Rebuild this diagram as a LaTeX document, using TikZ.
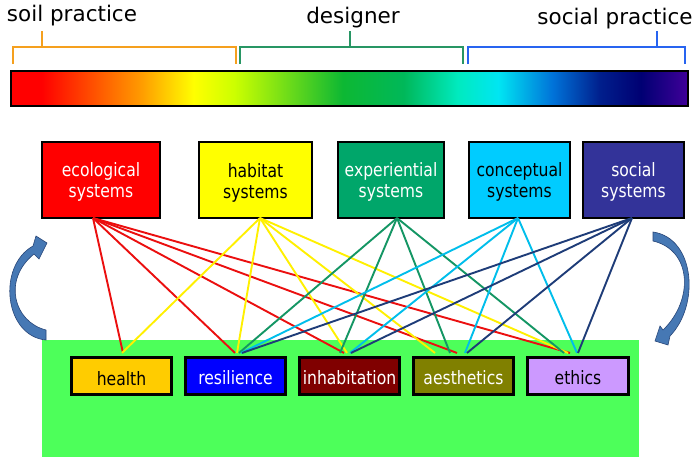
\documentclass[tikz,border=0pt]{standalone}
\usepackage{fontspec}
\usepackage{graphicx}
\setmainfont{DejaVu Sans}
\usetikzlibrary{calc}
\definecolor{cEco}{RGB}{255,0,0}
\definecolor{cHab}{RGB}{255,255,0}
\definecolor{cExp}{RGB}{0,166,106}
\definecolor{cCon}{RGB}{0,204,255}
\definecolor{cSoc}{RGB}{51,51,153}
\definecolor{cHea}{RGB}{255,204,0}
\definecolor{cRes}{RGB}{0,0,255}
\definecolor{cInh}{RGB}{128,0,0}
\definecolor{cAes}{RGB}{128,128,0}
\definecolor{cEth}{RGB}{204,153,255}
\definecolor{cBg}{RGB}{77,255,90}
\definecolor{lRed}{RGB}{235,15,15}
\definecolor{lYel}{RGB}{255,240,0}
\definecolor{lGrn}{RGB}{20,150,100}
\definecolor{lCya}{RGB}{0,190,235}
\definecolor{lNav}{RGB}{30,60,120}
\definecolor{bOra}{RGB}{245,160,30}
\definecolor{bGrn}{RGB}{40,150,100}
\definecolor{bBlu}{RGB}{40,100,240}
\definecolor{arrFill}{RGB}{70,120,180}
\definecolor{arrLine}{RGB}{40,70,120}
\newcommand\vstr[2]{\raisebox{#1}[\height][\depth]{\scalebox{1}[1.18]{\begin{tabular}{@{}c@{}}#2\end{tabular}}}}
\pgfdeclarehorizontalshading{spectrum}{100bp}{rgb(0bp)=(1,0,0); rgb(25bp)=(1,0,0); rgb(27.25bp)=(1,0,0); rgb(34.5bp)=(1,0.6,0); rgb(38.5bp)=(1,1,0); rgb(41.5bp)=(0.8,1,0); rgb(49.5bp)=(0.05,0.72,0.2); rgb(54bp)=(0,0.72,0.35); rgb(58bp)=(0,0.92,0.75); rgb(61bp)=(0,0.9,0.95); rgb(65bp)=(0,0.45,0.85); rgb(68.5bp)=(0,0.12,0.55); rgb(71.5bp)=(0,0,0.45); rgb(75bp)=(0.25,0,0.6); rgb(100bp)=(0.25,0,0.6)}
\begin{document}
\begin{tikzpicture}[x=1pt,y=-1pt,
  toplabel/.style={font=\fontsize{21.5}{24}\selectfont, inner sep=0},
  topbox/.style={draw=black, line width=2pt, minimum height=76pt, inner sep=0, align=center, font=\fontsize{15.6}{17}\selectfont},
  botbox/.style={draw=black, line width=2.6pt, minimum height=37.5pt, minimum width=100.5pt, inner sep=0, font=\fontsize{15.6}{17}\selectfont},
  conn/.style={line width=1.9pt},
  brk/.style={line width=1.5pt},
  cycarrow/.style={fill=arrFill, draw=arrLine, line width=0.6pt}]
\useasboundingbox (0,0) rectangle (700,467);
\fill[white] (0,0) rectangle (700,467);

% labels
\node[toplabel] (lsoil) at (72,16) {soil practice};
\node[toplabel] (ldes) at (353,18) {designer};
\node[toplabel] (lsoc) at (615,19) {social practice};

% brackets
\draw[brk, bOra] (13,64) -- (13,47) -- (236,47) -- (236,64);
\draw[brk, bOra] (42,31) -- (42,47);
\draw[brk, bGrn] (240,64) -- (240,47) -- (463,47) -- (463,64);
\draw[brk, bGrn] (350,31) -- (350,47);
\draw[brk, bBlu] (468,64) -- (468,47) -- (685,47) -- (685,64);
\draw[brk, bBlu] (657,31) -- (657,47);

% spectrum bar
\path[shading=spectrum] (11,71) rectangle (688,106);
\draw[line width=2pt] (11,71) rectangle (688,106);

% green background
\fill[cBg] (42,340) rectangle (639,457);

% top boxes
\node[topbox, fill=cEco, text=white, minimum width=118pt] (eco) at (101,180) {\vstr{-3pt}{ecological\\systems}};
\node[topbox, fill=cHab, text=black, minimum width=113pt] (hab) at (255.5,180) {\vstr{-4pt}{habitat\\systems}};
\node[topbox, fill=cExp, text=white, minimum width=106pt] (exp) at (391,180) {\vstr{-3pt}{experiential\\systems}};
\node[topbox, fill=cCon, text=black, minimum width=101pt] (con) at (519.5,180) {\vstr{-3pt}{conceptual\\systems}};
\node[topbox, fill=cSoc, text=white, minimum width=101pt] (soc) at (633.5,180) {\vstr{-3pt}{social\\systems}};

% bottom boxes
\node[botbox, fill=cHea, text=black] (hea) at (121.5,376) {\vstr{-5.5pt}{health}};
\node[botbox, fill=cRes, text=white] (res) at (235.5,376) {\vstr{-4.5pt}{resilience}};
\node[botbox, fill=cInh, text=white] (inh) at (349.5,376) {\vstr{-4.5pt}{inhabitation}};
\node[botbox, fill=cAes, text=white] (aes) at (463.5,376) {\vstr{-4.5pt}{aesthetics}};
\node[botbox, fill=cEth, text=black] (eth) at (578,376) {\vstr{-4.5pt}{ethics}};

% connectors
\foreach \s/\sx/\d/\dx/\c in {
  eco/-8/hea/1.5/lRed, eco/-8/res/-0.5/lRed, eco/-8/inh/-5.5/lRed, eco/-8/aes/-6.5/lRed, eco/-8/eth/-8/lRed,
  hab/4.5/hea/0.5/lYel, hab/4.5/res/1.5/lYel, hab/4.5/inh/-2.5/lYel, hab/4.5/aes/-28.5/lYel, hab/4.5/eth/-10/lYel,
  exp/6/res/3.5/lGrn, exp/6/inh/-9.5/lGrn, exp/6/aes/-13.5/lGrn, exp/6/eth/-14/lGrn,
  con/-1.5/res/5.5/lCya, con/-1.5/inh/0.5/lCya, con/-1.5/aes/1.5/lCya, con/-1.5/eth/-1/lCya,
  soc/-1.5/res/6.5/lNav, soc/-1.5/inh/1.5/lNav, soc/-1.5/aes/3.5/lNav, soc/-1.5/eth/0/lNav}
  \draw[conn, \c] ([xshift=\sx pt, yshift=1pt]\s.south) -- ([xshift=\dx pt, yshift=3pt]\d.north);

% cycle arrows
\path[cycarrow] (46,330) .. controls (14,322) and (2,280) .. (34,254) -- (39,259) -- (47,243) -- (36,236) -- (33,246) .. controls (-3,266) and (4,336) .. (46,340) -- cycle;
\path[cycarrow] (653,232) .. controls (695,238) and (700,305) .. (670,336) -- (668,345) -- (655,341) -- (660,326) -- (663,330) .. controls (694,300) and (692,250) .. (653,241) -- cycle;
\end{tikzpicture}
\end{document}
